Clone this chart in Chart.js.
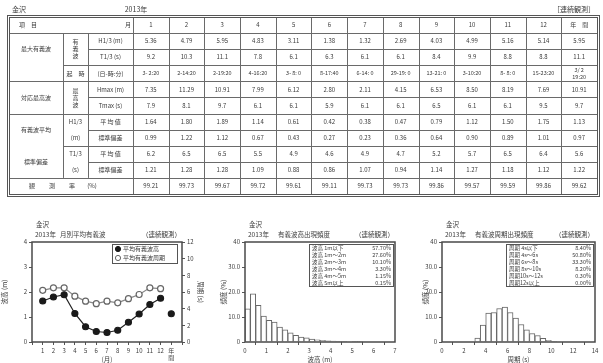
<!DOCTYPE html>
<html>
<head>
<meta charset="utf-8">
<script src="https://cdn.jsdelivr.net/npm/chart.js@4.4.1/dist/chart.umd.min.js"></script>
<style>
  html, body { margin: 0; padding: 0; background: #fff; width: 603px; height: 363px; overflow: hidden; }
  canvas { position: absolute; }
</style>
</head>
<body>
<canvas id="sheet" width="603" height="200" style="left:0;top:0"></canvas>
<canvas id="c1" width="205" height="158" style="left:0;top:205px"></canvas>
<canvas id="c2" width="200" height="158" style="left:200px;top:205px"></canvas>
<canvas id="c3" width="203" height="158" style="left:400px;top:205px"></canvas>
<script>
// ---- station / year ----
const place = '金沢';
const yearLabel = '2013年';

// ---- monthly statistics (columns: Jan..Dec, annual) ----
const months = ['1', '2', '3', '4', '5', '6', '7', '8', '9', '10', '11', '12', '年間'];
const maxH13 = [5.36, 4.79, 5.95, 4.83, 3.11, 1.38, 1.32, 2.69, 4.03, 4.99, 5.16, 5.14, 5.95];
const maxT13 = [9.2, 10.3, 11.1, 7.8, 6.1, 6.3, 6.1, 6.1, 8.4, 9.9, 8.8, 8.8, 11.1];
const maxTime = ['3- 2:20', '2-14:20', '2-19:20', '4-16:20', '3- 8: 0', '8-17:40', '6-14: 0',
                 '29-19: 0', '13-21: 0', '3-10:20', '8- 8: 0', '15-23:20', ['3/ 2', '19:20']];
const hmax = [7.35, 11.29, 10.91, 7.99, 6.12, 2.80, 2.11, 4.15, 6.53, 8.50, 8.19, 7.69, 10.91];
const tmax = [7.9, 8.1, 9.7, 6.1, 6.1, 5.9, 6.1, 6.1, 6.5, 6.1, 6.1, 9.5, 9.7];
const meanH = [1.64, 1.80, 1.89, 1.14, 0.61, 0.42, 0.38, 0.47, 0.79, 1.12, 1.50, 1.75, 1.13];
const sdH = [0.99, 1.22, 1.12, 0.67, 0.43, 0.27, 0.23, 0.36, 0.64, 0.90, 0.89, 1.01, 0.97];
const meanT = [6.2, 6.5, 6.5, 5.5, 4.9, 4.6, 4.9, 4.7, 5.2, 5.7, 6.5, 6.4, 5.6];
const sdT = [1.21, 1.28, 1.28, 1.09, 0.88, 0.86, 1.07, 0.94, 1.14, 1.27, 1.18, 1.12, 1.22];
const obsRate = [99.21, 99.73, 99.67, 99.72, 99.61, 99.11, 99.73, 99.73, 99.86, 99.57, 99.59, 99.86, 99.62];

// ---- frequency of significant wave height, 0.25 m classes from 0 m (%) ----
const heightStep = 0.25;
const heightFreq = [13.3, 19.3, 14.7, 10.4, 8.7, 8.0, 6.0, 4.9, 3.7, 2.7, 2.0, 1.7,
                    1.2, 0.9, 0.7, 0.5, 0.4, 0.3, 0.25, 0.2, 0.1, 0.05];
const heightClassEdges = [1, 2, 3, 4, 5];
const heightClassNames = ['波高 1m以下', '波高 1m～2m', '波高 2m～3m', '波高 3m～4m', '波高 4m～5m', '波高 5m以上'];

// ---- frequency of significant wave period, 0.5 s classes from 3.0 s (%) ----
const periodStep = 0.5;
const periodStart = 3.0;
const periodFreq = [1.6, 6.8, 11.6, 11.8, 13.4, 14.0, 11.8, 9.6, 7.0, 4.9, 3.4, 2.6, 1.5, 0.7, 0.3];
const periodClassEdges = [4, 6, 8, 10, 12];
const periodClassNames = ['周期 4s以下', '周期 4s～6s', '周期 6s～8s', '周期 8s～10s', '周期10s～12s', '周期12s以上'];

const JP = '"Noto Sans CJK JP", "Noto Sans", sans-serif';
const INK = '#3a3a3a';
const RULE = '#6a6a6a';

// ================= summary table =================
function drawSheet() {
  const g = document.getElementById('sheet').getContext('2d');
  const X0 = 9, XG = 63, XS = 88, XL = 133, XR = 597;
  const colW = (XR - XL) / 13;
  const Y0 = 17, YH = 33, RH = 16.1;
  const ry = k => YH + RH * k;
  const rc = k => YH + RH * (k + 0.5);
  const cx = i => XL + colW * (i + 0.5);

  g.fillStyle = '#fff';
  g.fillRect(0, 0, 603, 200);

  g.strokeStyle = RULE;
  g.lineWidth = 1;
  const h = (x1, x2, y) => { g.beginPath(); g.moveTo(x1, Math.round(y) + 0.5); g.lineTo(x2, Math.round(y) + 0.5); g.stroke(); };
  const v = (x, y1, y2) => { g.beginPath(); g.moveTo(Math.round(x) + 0.5, y1); g.lineTo(Math.round(x) + 0.5, y2); g.stroke(); };

  const YB = ry(10);
  h(X0, XR, YH);
  h(XS, XR, ry(1)); h(XG, XR, ry(2)); h(X0, XR, ry(3));
  h(XS, XR, ry(4)); h(X0, XR, ry(5));
  h(XS, XR, ry(6)); h(XG, XR, ry(7)); h(XS, XR, ry(8)); h(X0, XR, ry(9));
  v(XG, YH, ry(9)); v(XS, YH, ry(9));
  for (let i = 0; i < 13; i++) v(XL + colW * i, Y0, YB);

  // outer frame, drawn as a double rule
  g.strokeStyle = '#555';
  g.lineWidth = 1;
  g.strokeRect(X0 + 0.5, Y0 + 0.5, XR - X0, YB - Y0);
  g.strokeRect(X0 - 1.5, Y0 - 1.5, XR - X0 + 4, YB - Y0 + 4);

  g.fillStyle = INK;
  g.textBaseline = 'middle';
  const t = (s, x, y, align = 'center', size = 6) => {
    g.font = size + 'px ' + JP; g.textAlign = align; g.fillText(s, x, y);
  };

  // page heading
  t(place, 12, 9, 'left', 7);
  t(yearLabel, 136, 9, 'center', 7);
  t('［連続観測］', 595, 9, 'right', 7);

  // header row
  t('項　目', 28, (Y0 + YH) / 2);
  t('月', 128, (Y0 + YH) / 2);
  months.forEach((m, i) => t(m === '年間' ? '年　間' : m, cx(i), (Y0 + YH) / 2));

  // row labels
  const gx = (X0 + XG) / 2, sx = (XG + XS) / 2, lx = (XS + XL) / 2;
  t('最大有義波', gx, ry(1));
  ['有', '義', '波'].forEach((c, k) => t(c, sx, ry(1) + (k - 1) * 7));
  t('H1/3 (m)', lx, rc(0));
  t('T1/3 (s)', lx, rc(1));
  t('起　時', sx, rc(2));
  t('(日-時:分)', lx, rc(2));
  t('対応最高波', gx, ry(4));
  ['最', '高', '波'].forEach((c, k) => t(c, sx, ry(4) + (k - 1) * 7));
  t('Hmax (m)', lx, rc(3));
  t('Tmax (s)', lx, rc(4));
  t('有義波平均', gx, ry(6));
  t('標準偏差', gx, ry(8));
  t('H1/3', sx, rc(5)); t('(m)', sx, rc(6));
  t('T1/3', sx, rc(7)); t('(s)', sx, rc(8));
  t('平 均 値', lx, rc(5)); t('標準偏差', lx, rc(6));
  t('平 均 値', lx, rc(7)); t('標準偏差', lx, rc(8));
  t('観', 32, rc(9)); t('測', 52, rc(9)); t('率', 72, rc(9)); t('(%)', 92, rc(9));

  // values
  const rows = [
    maxH13.map(x => x.toFixed(2)),
    maxT13.map(x => x.toFixed(1)),
    maxTime,
    hmax.map(x => x.toFixed(2)),
    tmax.map(x => x.toFixed(1)),
    meanH.map(x => x.toFixed(2)),
    sdH.map(x => x.toFixed(2)),
    meanT.map(x => x.toFixed(1)),
    sdT.map(x => x.toFixed(2)),
    obsRate.map(x => x.toFixed(2))
  ];
  rows.forEach((row, k) => row.forEach((s, i) => {
    if (Array.isArray(s)) {
      t(s[0], cx(i), rc(k) - 3.5, 'center', 5.5);
      t(s[1], cx(i), rc(k) + 3.5, 'center', 5.5);
    } else {
      t(s, cx(i), rc(k), 'center', k === 2 ? 5.5 : 6);
    }
  }));
}
drawSheet();

// ================= charts =================
const tickFont = { family: JP, size: 6 };
const titleFont = { family: JP, size: 6.5 };

// heading, plot frame, legend and class table drawn around the plot area
const panel = {
  id: 'panel',
  afterDraw(chart, args, o) {
    const { ctx, chartArea: a } = chart;
    ctx.save();
    ctx.strokeStyle = '#4a4a4a';
    ctx.lineWidth = 1.5;
    ctx.strokeRect(a.left, a.top, a.right - a.left, a.bottom - a.top);

    ctx.fillStyle = INK;
    ctx.textBaseline = 'middle';
    ctx.font = '6.5px ' + JP;
    ctx.textAlign = 'left';
    ctx.fillText(place, a.left + 4, a.top - 17);
    ctx.fillText(yearLabel, a.left + 3, a.top - 7);
    ctx.fillText(o.title, a.left + o.titleOffset, a.top - 7);
    ctx.textAlign = 'right';
    ctx.fillText('（連続観測）', a.right - 1, a.top - 7);

    if (o.legend) {
      const bx = a.left + 80, by = a.top + 2, bw = a.right - 5 - bx, bh = 19;
      ctx.lineWidth = 1;
      ctx.strokeStyle = '#555';
      ctx.fillStyle = '#fff';
      ctx.fillRect(bx, by, bw, bh);
      ctx.strokeRect(bx + 0.5, by + 0.5, bw, bh);
      chart.data.datasets.forEach((ds, k) => {
        const yy = by + 5 + k * 9;
        ctx.beginPath();
        ctx.arc(bx + 6, yy, 2.6, 0, Math.PI * 2);
        ctx.fillStyle = ds.pointBackgroundColor;
        ctx.fill();
        ctx.strokeStyle = ds.pointBorderColor;
        ctx.stroke();
        ctx.fillStyle = INK;
        ctx.textAlign = 'left';
        ctx.font = '6px ' + JP;
        ctx.fillText(ds.label, bx + 11, yy);
      });
    }

    if (o.classes) {
      const bx = a.left + 64, by = a.top + 2, bw = a.right - 2 - bx, rh = 7, bh = rh * 6;
      ctx.lineWidth = 1;
      ctx.strokeStyle = '#555';
      ctx.fillStyle = '#fff';
      ctx.fillRect(bx, by, bw, bh);
      ctx.strokeRect(bx + 0.5, by + 0.5, bw, bh);
      ctx.font = '5.5px ' + JP;
      ctx.fillStyle = INK;
      o.classes.names.forEach((name, k) => {
        const yy = by + rh * (k + 0.5) + 0.5;
        ctx.textAlign = 'left';
        ctx.fillText(name, bx + 3, yy);
        ctx.textAlign = 'right';
        ctx.fillText(o.classes.values[k].toFixed(2) + '%', bx + bw - 2, yy);
      });
    }
    ctx.restore();
  }
};

// sums of the histogram classes between the given edges
function classShares(freq, start, step, edges) {
  const out = new Array(edges.length + 1).fill(0);
  freq.forEach((f, i) => {
    const mid = start + step * (i + 0.5);
    let k = edges.findIndex(e => mid < e);
    if (k < 0) k = edges.length;
    out[k] += f;
  });
  return out;
}

const axisBase = {
  ticks: { font: tickFont, color: INK, padding: 2, maxRotation: 0, autoSkip: false },
  grid: { drawOnChartArea: false, tickLength: 3, color: '#555' },
  border: { display: false },
  title: { display: true, font: titleFont, color: INK, padding: 1 }
};
const merge = (...objs) => objs.reduce((acc, o) => {
  for (const k in o) acc[k] = (o[k] && typeof o[k] === 'object' && !Array.isArray(o[k]) && typeof o[k] !== 'function')
    ? merge(acc[k] || {}, o[k]) : o[k];
  return acc;
}, {});

const common = {
  responsive: false,
  animation: false,
  devicePixelRatio: 1,
  events: [],
  plugins: { legend: { display: false }, tooltip: { enabled: false } }
};

// ---- monthly mean wave height and period ----
new Chart(document.getElementById('c1'), {
  type: 'line',
  data: {
    datasets: [
      {
        label: '平均有義波高',
        data: meanH.map((y, i) => ({ x: i + 1, y })),
        yAxisID: 'yH',
        borderColor: '#222', borderWidth: 1.2,
        pointRadius: 3, pointBackgroundColor: '#1a1a1a', pointBorderColor: '#1a1a1a',
        segment: { borderColor: c => c.p1DataIndex >= 12 ? 'rgba(0,0,0,0)' : '#222' }
      },
      {
        label: '平均有義波周期',
        data: meanT.slice(0, 12).map((y, i) => ({ x: i + 1, y })),
        yAxisID: 'yT',
        borderColor: '#888', borderWidth: 1.2,
        pointRadius: 3, pointBackgroundColor: '#fff', pointBorderColor: '#666'
      }
    ]
  },
  options: merge(common, {
    layout: { padding: { top: 37 } },
    plugins: { panel: { title: '月別平均有義波', titleOffset: 28, legend: true } },
    scales: {
      x: merge(axisBase, {
        type: 'linear', min: 0, max: 14,
        afterFit: s => { s.height = 21; },
        ticks: { stepSize: 1, callback: v => { const m = months[Math.round(v) - 1]; return m ? (m === '年間' ? ['年', '間'] : m) : ''; } },
        title: { text: '(月)', padding: 0 }
      }),
      yH: merge(axisBase, {
        position: 'left', min: 0, max: 4,
        afterFit: s => { s.width = 32; },
        ticks: { stepSize: 1 },
        title: { text: '波高 (m)' }
      }),
      yT: merge(axisBase, {
        position: 'right', min: 0, max: 12,
        afterFit: s => { s.width = 23; },
        ticks: { stepSize: 2 },
        title: { text: '周期 (s)' }
      })
    }
  }),
  plugins: [panel]
});

// ---- histogram charts ----
function histogram(id, freq, start, step, xMax, xStep, xTitle, title, names, edges, padLeft, leftWidth, padRight) {
  new Chart(document.getElementById(id), {
    type: 'bar',
    data: {
      datasets: [{
        data: freq.map((y, i) => ({ x: start + step * (i + 0.5), y })),
        backgroundColor: '#fff',
        borderColor: '#666',
        borderWidth: 1,
        barPercentage: 1,
        categoryPercentage: 1
      }]
    },
    options: merge(common, {
      layout: { padding: { top: 37, left: padLeft, right: padRight } },
      plugins: {
        panel: {
          title, titleOffset: 33,
          classes: { names, values: classShares(freq, start, step, edges) }
        }
      },
      scales: {
        x: merge(axisBase, {
          type: 'linear', min: 0, max: xMax, offset: false,
          afterFit: s => { s.height = 21; },
          ticks: { stepSize: xStep },
          title: { text: xTitle, padding: 0 }
        }),
        y: merge(axisBase, {
          min: 0, max: 40,
          afterFit: s => { s.width = leftWidth; },
          ticks: { stepSize: 10, callback: v => v === 0 || v === 40 ? String(v) : v.toFixed(1) },
          title: { text: '頻度 (%)' }
        })
      }
    }),
    plugins: [panel]
  });
}

histogram('c2', heightFreq, 0, heightStep, 7, 1, '波高 (m)', '有義波高出現頻度',
  heightClassNames, heightClassEdges, 19, 26, 5);
histogram('c3', periodFreq, periodStart, periodStep, 14, 2, '周期 (s)', '有義波周期出現頻度',
  periodClassNames, periodClassEdges, 21, 21, 8);
</script>
</body>
</html>
